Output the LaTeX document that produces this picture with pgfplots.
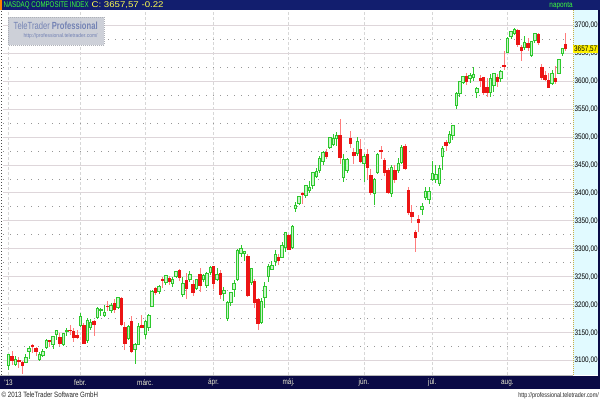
\documentclass[border=0pt]{standalone}
\usepackage{fontspec}
\setmainfont{Liberation Sans}
\newfontfamily\narrow{Liberation Sans}[FakeStretch=0.8]
\usepackage{graphicx}
\usepackage{pgfplots}
\usepackage{pgfplotstable}
\pgfplotsset{compat=1.18}
\usepgfplotslibrary{statistics}

\definecolor{hdrnavy}{RGB}{18,30,110}
\definecolor{botnavy}{RGB}{10,10,70}
\definecolor{cgreen}{RGB}{45,200,45}
\definecolor{clight}{RGB}{200,245,200}
\definecolor{cred}{RGB}{235,20,20}
\definecolor{cpink}{RGB}{255,125,125}
\definecolor{strip}{RGB}{225,250,255}
\definecolor{logobg}{RGB}{205,208,216}
\definecolor{logotxt}{RGB}{115,130,180}
\definecolor{hgreen}{RGB}{60,255,60}
\definecolor{hyellow}{RGB}{255,255,80}
\definecolor{monthtxt}{RGB}{235,235,210}
\definecolor{stripline}{RGB}{205,175,70}
\definecolor{gmajor}{RGB}{222,214,218}
\definecolor{gminor}{RGB}{150,150,150}
\definecolor{gxline}{RGB}{215,215,215}

\pgfplotstableread{
i o h l c
0 3091.3 3112.7 3083.6 3112.3
1 3108.5 3118.2 3092.3 3100.6
2 3094.0 3108.4 3090.8 3101.7
3 3101.0 3106.7 3087.0 3098.8
4 3098.0 3100.1 3076.6 3091.8
5 3097.0 3111.4 3096.0 3105.8
6 3116.0 3126.3 3102.4 3121.8
7 3127.0 3129.0 3113.3 3125.6
8 3123.0 3125.2 3108.5 3117.5
9 3102.6 3115.4 3098.7 3110.8
10 3110.5 3121.0 3107.0 3117.5
11 3124.1 3138.0 3121.5 3136.0
12 3137.2 3137.2 3123.8 3134.7
13 3129.0 3143.2 3121.7 3143.2
14 3146.7 3154.2 3137.1 3153.7
15 3141.0 3150.0 3127.0 3130.4
16 3130.0 3150.0 3126.0 3149.7
17 3152.0 3159.0 3145.0 3154.3
18 3155.0 3163.0 3146.0 3153.7
19 3152.0 3158.0 3134.0 3142.3
20 3145.0 3154.0 3138.0 3142.1
21 3164.0 3185.0 3160.0 3179.1
22 3164.0 3168.0 3130.0 3131.2
23 3136.0 3176.0 3132.0 3171.6
24 3160.0 3175.0 3155.0 3168.5
25 3170.0 3172.0 3145.0 3165.1
26 3178.0 3196.0 3175.0 3193.9
27 3190.0 3195.0 3180.0 3192.0
28 3181.0 3200.0 3178.0 3186.5
29 3198.0 3206.0 3189.0 3196.9
30 3190.0 3203.0 3185.0 3198.7
31 3203.0 3210.0 3186.0 3192.0
32 3196.0 3214.0 3192.0 3213.6
33 3212.0 3214.0 3163.0 3164.4
34 3160.0 3170.0 3120.0 3131.5
35 3140.0 3163.0 3137.0 3161.8
36 3170.0 3180.0 3115.0 3116.3
37 3120.0 3131.0 3094.0 3129.7
38 3130.0 3168.0 3128.0 3162.3
39 3164.0 3182.0 3158.0 3160.2
40 3147.0 3172.0 3138.0 3169.7
41 3160.0 3183.0 3153.0 3182.0
42 3197.0 3227.0 3196.0 3224.1
43 3230.0 3232.0 3218.0 3222.4
44 3224.0 3235.0 3220.0 3232.1
45 3245.0 3249.0 3230.0 3244.4
46 3240.0 3253.0 3236.0 3252.9
47 3248.0 3251.0 3236.0 3242.3
48 3238.0 3250.0 3232.0 3245.1
49 3250.0 3260.0 3249.0 3258.9
50 3262.0 3263.0 3243.0 3249.1
51 3219.0 3249.0 3214.0 3237.6
52 3244.0 3256.0 3210.0 3229.1
53 3246.0 3260.0 3240.0 3254.2
54 3237.0 3244.0 3216.0 3222.6
55 3230.0 3245.0 3227.0 3245.0
56 3255.0 3266.0 3222.0 3235.3
57 3245.0 3255.0 3240.0 3252.5
58 3234.0 3258.0 3230.0 3256.5
59 3258.0 3270.0 3253.0 3267.5
60 3268.0 3270.0 3228.0 3239.2
61 3245.0 3265.0 3243.0 3254.9
62 3257.0 3262.0 3210.0 3218.6
63 3221.0 3232.0 3207.0 3225.0
64 3176.0 3206.0 3171.0 3203.9
65 3205.0 3223.0 3198.0 3222.3
66 3228.0 3245.0 3213.0 3237.9
67 3245.0 3300.0 3244.0 3297.3
68 3292.0 3306.0 3286.0 3300.2
69 3292.0 3296.0 3278.0 3295.0
70 3287.0 3291.0 3215.0 3216.5
71 3240.0 3265.0 3235.0 3264.6
72 3242.0 3246.0 3195.0 3204.7
73 3210.0 3212.0 3154.0 3166.4
74 3169.0 3212.0 3166.0 3206.1
75 3214.0 3240.0 3194.0 3233.6
76 3250.0 3273.0 3240.0 3269.3
77 3264.0 3278.0 3262.0 3269.7
78 3278.0 3297.0 3270.0 3290.0
79 3285.0 3290.0 3271.0 3279.3
80 3285.0 3312.0 3283.0 3307.0
81 3303.0 3329.0 3295.0 3328.8
82 3325.0 3327.0 3299.0 3299.1
83 3302.0 3342.0 3300.0 3340.6
84 3373.0 3384.0 3366.0 3378.6
85 3381.0 3394.0 3378.0 3393.0
86 3400.0 3402.0 3380.0 3396.6
87 3395.0 3414.0 3390.0 3413.3
88 3405.0 3421.0 3399.0 3409.2
89 3413.0 3437.0 3406.0 3436.6
90 3430.0 3444.0 3427.0 3438.8
91 3440.0 3466.0 3436.0 3462.6
92 3456.0 3475.0 3450.0 3471.6
93 3472.0 3478.0 3460.0 3465.2
94 3482.0 3499.0 3478.0 3499.0
95 3487.0 3505.0 3483.0 3497.0
96 3497.0 3508.0 3484.0 3502.1
97 3503.0 3532.0 3451.0 3463.3
98 3427.0 3470.0 3420.0 3459.4
99 3440.0 3462.0 3435.0 3459.1
100 3498.0 3510.0 3480.0 3488.9
101 3472.0 3480.0 3452.0 3467.5
102 3471.0 3500.0 3465.0 3491.3
103 3477.0 3496.0 3455.0 3455.9
104 3452.0 3469.0 3420.0 3465.4
105 3468.0 3478.0 3425.0 3445.3
106 3432.0 3442.0 3396.0 3401.5
107 3400.0 3427.0 3379.0 3424.1
108 3436.0 3472.0 3434.0 3469.2
109 3476.0 3483.0 3460.0 3473.8
110 3459.0 3462.0 3430.0 3437.0
111 3440.0 3445.0 3398.0 3400.4
112 3400.0 3450.0 3392.0 3445.4
113 3441.0 3450.0 3418.0 3423.6
114 3440.0 3462.0 3436.0 3452.1
115 3455.0 3485.0 3452.0 3482.2
116 3484.0 3488.0 3440.0 3443.2
117 3405.0 3410.0 3360.0 3364.6
118 3366.0 3378.0 3346.0 3357.3
119 3330.0 3333.0 3295.0 3320.8
120 3352.0 3360.0 3330.0 3347.9
121 3370.0 3382.0 3360.0 3376.2
122 3392.0 3410.0 3388.0 3401.9
123 3388.0 3410.0 3380.0 3403.3
124 3425.0 3457.0 3422.0 3434.5
125 3425.0 3450.0 3418.0 3433.4
126 3417.0 3450.0 3412.0 3443.7
127 3466.0 3484.0 3440.0 3479.4
128 3490.0 3494.0 3474.0 3484.8
129 3490.0 3510.0 3488.0 3504.3
130 3502.0 3522.0 3495.0 3520.8
131 3556.0 3580.0 3550.0 3578.3
132 3578.0 3600.0 3572.0 3600.1
133 3598.0 3609.0 3594.0 3607.5
134 3609.0 3614.0 3593.0 3598.5
135 3605.0 3614.0 3597.0 3610.0
136 3607.0 3625.0 3600.0 3611.3
137 3580.0 3590.0 3570.0 3587.6
138 3605.0 3610.0 3590.0 3600.4
139 3606.0 3607.0 3574.0 3579.3
140 3589.0 3606.0 3572.0 3579.6
141 3580.0 3612.0 3571.0 3605.2
142 3592.0 3614.0 3580.0 3613.2
143 3606.0 3612.0 3590.0 3599.1
144 3604.0 3620.0 3598.0 3616.5
145 3628.0 3653.0 3620.0 3626.4
146 3652.0 3678.0 3650.0 3675.7
147 3680.0 3690.0 3675.0 3689.6
148 3686.0 3695.0 3683.0 3693.0
149 3690.0 3692.0 3660.0 3665.8
150 3660.0 3664.0 3636.0 3654.0
151 3660.0 3680.0 3655.0 3669.1
152 3667.0 3676.0 3653.0 3660.1
153 3646.0 3671.0 3642.0 3670.0
154 3672.0 3686.0 3668.0 3684.4
155 3684.0 3685.0 3664.0 3669.3
156 3625.0 3630.0 3601.0 3606.1
157 3610.0 3618.0 3600.0 3602.8
158 3602.0 3615.0 3588.0 3589.1
159 3595.0 3620.0 3594.0 3613.6
160 3604.0 3627.0 3594.0 3599.8
161 3614.0 3640.0 3612.0 3638.7
162 3650.0 3658.0 3644.0 3657.8
163 3666.0 3686.0 3654.0 3657.6
}\candles

\begin{document}
\begin{tikzpicture}[x=1pt,y=1pt]
% canvas and frame
\fill[white] (0,0) rectangle (600,400);
\fill[strip] (573,25) rectangle (598,390);
\fill[botnavy] (0,11) rectangle (600,24);
\fill[botnavy] (598,11) rectangle (600,390);
\fill[hdrnavy] (0,390) rectangle (600,400);
\fill[orange] (0,390) rectangle (1.5,400);
\draw[gray!55, line width=1pt] (0,24.5) -- (573,24.5);
\draw[black!70, line width=1pt, dash pattern=on 1pt off 2pt] (1,25) -- (1,390);
\draw[stripline, line width=0.7pt, dash pattern=on 1pt off 1pt] (573.5,25) -- (573.5,390);

\begin{axis}[
  at={(3pt,25pt)}, anchor=south west,
  width=570pt, height=365pt, scale only axis,
  xmin=-1.46, xmax=165.2, ymin=3075, ymax=3726.8,
  axis line style={draw=none},
  tick style={draw=none},
  xtick={0,21,40,60,82,104,124,146},
  xticklabels={'13,febr.,márc.,ápr.,máj.,jún.,júl.,aug.},
  ytick={3100,3150,...,3700},
  minor ytick={3125,3175,...,3675},
  ytick pos=right, yticklabel pos=right,
  xmajorgrids, ymajorgrids, yminorgrids,
  major grid style={draw=gmajor, line width=0.7pt},
  minor grid style={draw=gminor, line width=0.7pt, dash pattern=on 0.7pt off 6.3pt},
  x grid style={draw=gxline, dash pattern=on 3pt off 2pt},
  /pgf/number format/assume math mode=true,
  /pgf/number format/fixed,
  /pgf/number format/fixed zerofill,
  /pgf/number format/precision=2,
  /pgf/number format/use comma,
  /pgf/number format/1000 sep={},
  ticklabel style={font=\narrow\fontsize{8}{9}\selectfont},
  xticklabel style={anchor=center, yshift=-8pt, text=monthtxt},
  yticklabel style={anchor=west, inner sep=0.8pt, xshift=0.5pt, text=black},
  extra y ticks={3657.57},
  extra y tick style={grid=none, yticklabel style={fill=yellow, minimum width=25pt, inner sep=0.8pt, xshift=-0.5pt}},
  boxplot/draw direction=y,
  boxplot/box extend=0.72,
  boxplot/whisker extend=0,
  upcandle/.style={line width=0.6pt, draw=cgreen,
    boxplot/every box/.style={draw=cgreen, fill=clight},
    boxplot/every whisker/.style={draw=cgreen},
    boxplot/every median/.style={draw=none}},
  dncandle/.style={line width=0.6pt, draw=cred,
    boxplot/every box/.style={draw=cred, fill=cred},
    boxplot/every whisker/.style={draw=cpink},
    boxplot/every median/.style={draw=none}},
]
\pgfplotsinvokeforeach{0,...,163}{
  \pgfplotstablegetelem{#1}{i}\of\candles \let\ci\pgfplotsretval
  \pgfplotstablegetelem{#1}{o}\of\candles \let\co\pgfplotsretval
  \pgfplotstablegetelem{#1}{h}\of\candles \let\ch\pgfplotsretval
  \pgfplotstablegetelem{#1}{l}\of\candles \let\cl\pgfplotsretval
  \pgfplotstablegetelem{#1}{c}\of\candles \let\cc\pgfplotsretval
  \ifdim\cc pt<\co pt
    \edef\cmd{\noexpand\addplot[dncandle, boxplot prepared={draw position=\ci, lower whisker=\cl, lower quartile=\cc, median=\cc, upper quartile=\co, upper whisker=\ch}] coordinates {};}
  \else
    \edef\cmd{\noexpand\addplot[upcandle, boxplot prepared={draw position=\ci, lower whisker=\cl, lower quartile=\co, median=\co, upper quartile=\cc, upper whisker=\ch}] coordinates {};}
  \fi
  \cmd
}
\end{axis}

% header texts
\node[anchor=base west, inner sep=0, text=hgreen] at (3,392.2) {\resizebox{85pt}{5.8pt}{\narrow NASDAQ COMPOSITE INDEX}};
\node[anchor=base west, inner sep=0, text=hyellow] at (91,392.2) {\resizebox{72pt}{5.8pt}{\narrow C: 3657,57 -0.22}};
\node[anchor=base, inner sep=0, text=hgreen, font=\narrow\fontsize{8}{9}\selectfont] at (561,392.5) {naponta};

% logo
\fill[logobg] (8,355) rectangle (104,383);
\draw[logobg!85!black, line width=0.5pt, dash pattern=on 1pt off 1pt] (8,355) rectangle (104,383);
\node[anchor=base west, inner sep=0, text=logotxt] at (13,370) {\resizebox{84pt}{7.5pt}{TeleTrader \textbf{Professional}}};
\node[anchor=base west, inner sep=0, text=logotxt] at (23,362.8) {\resizebox{74pt}{4pt}{http://professional.teletrader.com/}};

% footer
\node[anchor=base west, inner sep=0, text=black!85, font=\narrow\fontsize{7.7}{8}\selectfont] at (1,2.5) {\textcopyright{} 2013 TeleTrader Software GmbH};
\node[anchor=base east, inner sep=0, text=black!85, font=\narrow\fontsize{6.8}{8}\selectfont] at (599,2.5) {http://professional.teletrader.com/};
\end{tikzpicture}
\end{document}
